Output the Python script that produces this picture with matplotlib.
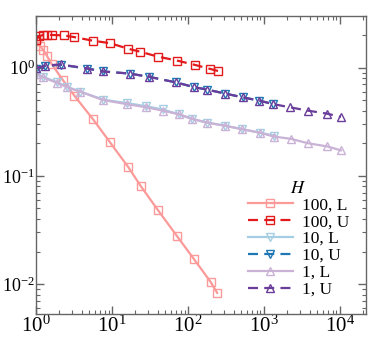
import matplotlib
matplotlib.use("Agg")
import matplotlib.pyplot as plt
from matplotlib.ticker import LogLocator, NullFormatter

plt.rcParams['font.family'] = ['Liberation Serif', 'DejaVu Serif']
plt.rcParams['mathtext.fontset'] = 'stix'
plt.rcParams['axes.unicode_minus'] = False

# ---- data ----
x_100L = [1.0, 1.13, 1.245, 1.40, 1.6, 2.27, 3.19, 5.58, 9.4, 16.4, 23.7, 40.4, 71.8, 120, 198, 242]
y_100L = [1.75, 1.57, 1.45, 1.27, 1.08, 0.76, 0.55, 0.335, 0.204, 0.12, 0.081, 0.048, 0.0277, 0.017, 0.0105, 0.0083]

x_100U = [1.0, 1.09, 1.245, 1.38, 1.63, 2.3, 3.19, 5.58, 9.4, 16.4, 23.5, 40.4, 71.8, 122, 197, 248]
y_100U = [1.79, 1.95, 2.0, 2.0, 2.0, 1.98, 1.91, 1.77, 1.68, 1.49, 1.40, 1.26, 1.16, 1.06, 0.97, 0.93]

x_10L = [1.0, 1.245, 1.9, 2.56, 3.8, 7.7, 15.5, 28, 46.5, 76, 114, 179, 310, 510, 890, 1370]
y_10L = [0.88, 0.82, 0.73, 0.66, 0.60, 0.505, 0.47, 0.44, 0.41, 0.37, 0.335, 0.31, 0.29, 0.27, 0.25, 0.235]

x_10U = [1.0, 1.3, 2.1, 4.66, 7.7, 17, 31, 69, 120, 179, 310, 530, 870, 1320]
y_10U = [0.98, 1.03, 1.06, 0.98, 0.92, 0.88, 0.82, 0.73, 0.66, 0.625, 0.575, 0.53, 0.495, 0.46]

x_1L = [1.0, 1.245, 1.9, 2.56, 3.8, 7.7, 15.5, 28, 46.5, 76, 114, 179, 310, 510, 890, 1370, 2240, 3800, 6800, 10300]
y_1L = [0.87, 0.81, 0.72, 0.66, 0.60, 0.50, 0.46, 0.43, 0.40, 0.37, 0.335, 0.31, 0.29, 0.27, 0.25, 0.23, 0.22, 0.20, 0.187, 0.172]

x_1U = [1.0, 1.3, 2.1, 4.66, 7.7, 17, 31, 69, 120, 179, 310, 530, 870, 1320, 2180, 3800, 6800, 10300]
y_1U = [0.99, 1.04, 1.07, 0.98, 0.92, 0.88, 0.82, 0.73, 0.66, 0.625, 0.575, 0.53, 0.495, 0.46, 0.43, 0.40, 0.375, 0.35]

labels = ['100, L', '100, U', '10, L', '10, U', '1, L', '1, U']
colors = ['#fb9a99', '#e31a1c', '#a6cee3', '#1f78b4', '#cab2d6', '#6a3d9a']
markers = ['s', 's', 'v', 'v', '^', '^']
styles = ['-', '--', '-', '--', '-', '--']
series = [(x_100L, y_100L), (x_100U, y_100U), (x_10L, y_10L),
          (x_10U, y_10U), (x_1L, y_1L), (x_1U, y_1U)]

fig = plt.figure(figsize=(3.8, 3.38), dpi=100)
ax = fig.add_axes([0.095, 0.071, 0.868, 0.882])

for (xs, ys), lab, c, m, ls in zip(series, labels, colors, markers, styles):
    line, = ax.plot(xs, ys, linestyle=ls, color=c, marker=m, markersize=6,
                    markerfacecolor='none', markeredgecolor=c, markeredgewidth=1.0,
                    linewidth=1.6, label=lab)
    if ls == '--':
        line.set_dashes((4.5, 2.8))

ax.set_xscale('log')
ax.set_yscale('log')
ax.set_xlim(1, 2.2e4)
ax.set_ylim(0.0053, 3.0)

ax.xaxis.set_major_locator(LogLocator(base=10, numticks=10))
ax.xaxis.set_minor_locator(LogLocator(base=10, subs=range(2, 10), numticks=20))
ax.yaxis.set_major_locator(LogLocator(base=10, numticks=10))
ax.yaxis.set_minor_locator(LogLocator(base=10, subs=range(2, 10), numticks=20))
ax.xaxis.set_minor_formatter(NullFormatter())
ax.yaxis.set_minor_formatter(NullFormatter())

ax.tick_params(which='both', direction='in', top=True, right=True,
               color='#666666')
ax.tick_params(axis='x', which='major', pad=1.5, labelsize=15)
ax.tick_params(axis='y', which='major', pad=1.0, labelsize=13)
ax.tick_params(which='major', length=6, width=1)
ax.tick_params(which='minor', length=3, width=0.8)
for s in ax.spines.values():
    s.set_color('#666666')
    s.set_linewidth(1.0)

leg = ax.legend(loc='lower right', frameon=False, fontsize=12.5,
                title='$H$', title_fontsize=13, handlelength=2.6,
                labelspacing=0.04, handletextpad=0.5, borderaxespad=0.2,
                bbox_to_anchor=(0.98, 0.02))

fig.savefig('out.png', dpi=100)
